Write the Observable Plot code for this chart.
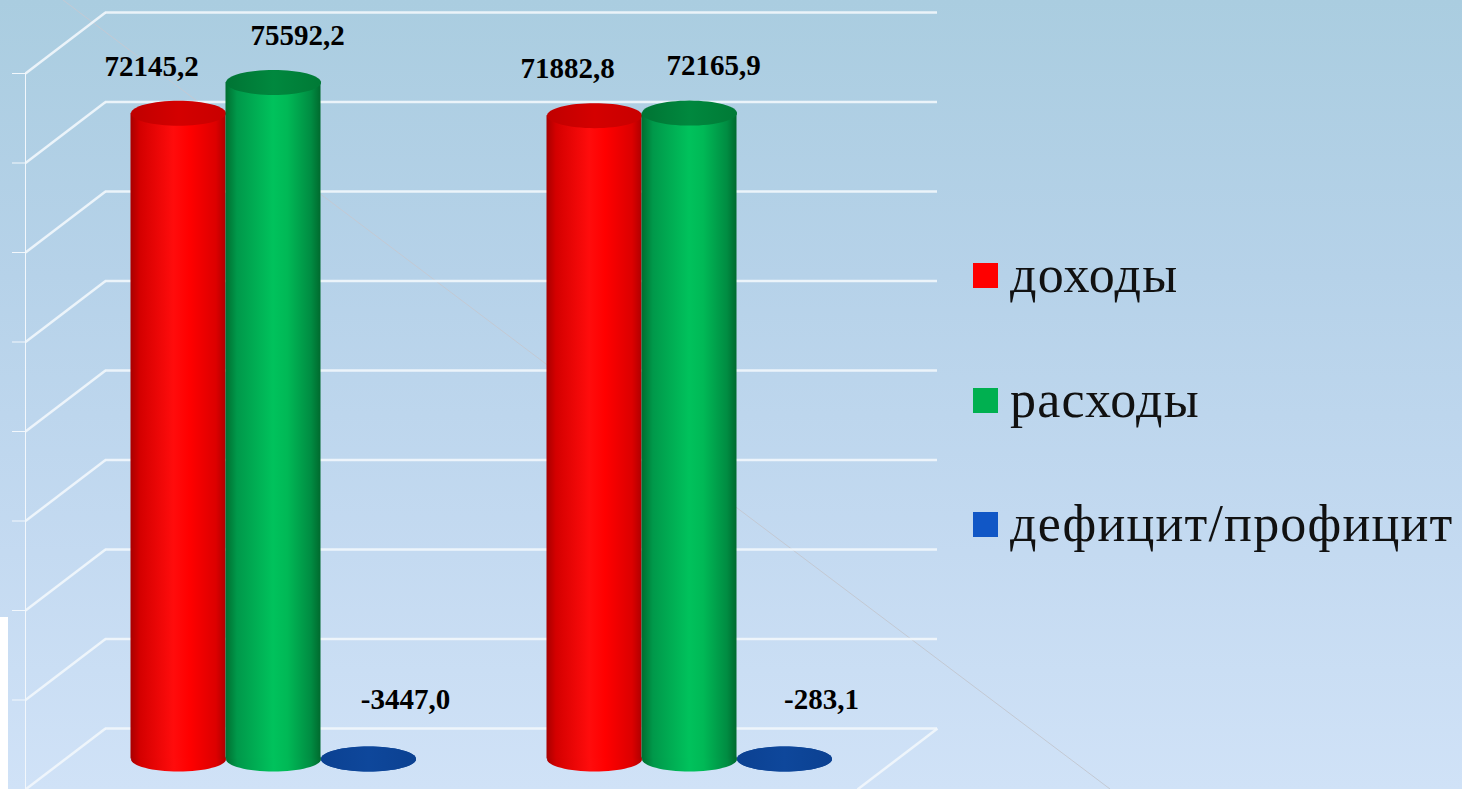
<!DOCTYPE html>
<html>
<head>
<meta charset="utf-8">
<script src="https://cdn.jsdelivr.net/npm/d3@7"></script>
<script src="https://cdn.jsdelivr.net/npm/@observablehq/plot@0.6"></script>
<style>
  html, body { margin: 0; padding: 0; }
  #page {
    position: relative; width: 1462px; height: 789px; overflow: hidden;
    background: linear-gradient(180deg, #aacde0 0%, #b6d2e9 35%, #c4daf1 70%, #d0e2f7 100%);
  }
  #deco { position: absolute; left: 0; top: 0; }
  #strip { position: absolute; left: 0; top: 617px; width: 8px; height: 172px; background: #ffffff; }
  #chart { position: absolute; left: 0; top: 0; }
  .item { position: absolute; left: 973px; height: 60px; white-space: nowrap; }
  .item .sw { position: absolute; left: 0; top: 13px; width: 25px; height: 25px; }
  .item .tx { position: absolute; left: 37px; top: 0; font-family: "Liberation Serif", "Times New Roman", serif;
              font-size: 52px; line-height: 50px; letter-spacing: 1.2px; color: #111; }
</style>
</head>
<body>
<svg width="0" height="0" style="position:absolute">
  <defs>
    <linearGradient id="bodyRed" x1="0" x2="1" y1="0" y2="0">
      <stop offset="0" stop-color="#a80000"/>
      <stop offset="0.1" stop-color="#d40000"/>
      <stop offset="0.45" stop-color="#ff0c0c"/>
      <stop offset="0.62" stop-color="#ff0000"/>
      <stop offset="0.9" stop-color="#dc0000"/>
      <stop offset="1" stop-color="#b00000"/>
    </linearGradient>
    <linearGradient id="topRed" x1="0" x2="1" y1="0" y2="0">
      <stop offset="0" stop-color="#c00000"/>
      <stop offset="0.5" stop-color="#d40000"/>
      <stop offset="1" stop-color="#c80000"/>
    </linearGradient>
    <linearGradient id="bodyGreen" x1="0" x2="1" y1="0" y2="0">
      <stop offset="0" stop-color="#006e30"/>
      <stop offset="0.12" stop-color="#00984a"/>
      <stop offset="0.5" stop-color="#00c25c"/>
      <stop offset="0.65" stop-color="#00b956"/>
      <stop offset="0.9" stop-color="#008c42"/>
      <stop offset="1" stop-color="#006a2e"/>
    </linearGradient>
    <linearGradient id="topGreen" x1="0" x2="1" y1="0" y2="0">
      <stop offset="0" stop-color="#007434"/>
      <stop offset="0.5" stop-color="#00883e"/>
      <stop offset="1" stop-color="#007a36"/>
    </linearGradient>
    <linearGradient id="bodyBlue" x1="0" x2="1" y1="0" y2="0">
      <stop offset="0" stop-color="#0a3f8e"/>
      <stop offset="0.5" stop-color="#0f4a9e"/>
      <stop offset="1" stop-color="#0a3f8e"/>
    </linearGradient>
    <linearGradient id="topBlue" x1="0" x2="1" y1="0" y2="0">
      <stop offset="0" stop-color="#0b4192"/>
      <stop offset="0.5" stop-color="#0e479b"/>
      <stop offset="1" stop-color="#0b4192"/>
    </linearGradient>
  </defs>
</svg>
<div id="page">
  <svg id="deco" width="1462" height="789"><line x1="63" y1="0" x2="1110" y2="789" stroke="#c3c9d3" stroke-width="1"/></svg>
  <div id="strip"></div>
  <div id="chart"></div>
  <div id="legend"></div>
</div>
<script>
// ---- data ----
const groups = ["Период 1", "Период 2"];
const seriesNames = ["доходы", "расходы", "дефицит/профицит"];
const incomes = [72145.2, 71882.8];
const expenses = [75592.2, 72165.9];
const balance = [-3447.0, -283.1];
const yTicks = [0, 10000, 20000, 30000, 40000, 50000, 60000, 70000, 80000];
const legendColors = ["#ff0000", "#00b050", "#1157c6"];

const table = groups.flatMap((g, i) => [
  {group: g, series: seriesNames[0], value: incomes[i]},
  {group: g, series: seriesNames[1], value: expenses[i]},
  {group: g, series: seriesNames[2], value: balance[i]}
]);

// ---- layout / style ----
const W = 945, H = 789, ML = 25, MR = 88, MT = 73, MB = 0;
const DEPTH_X = 80, DEPTH_Y = -61;
const BAR_W = 95;
const BAND = (W - ML - MR) / groups.length;
const INSET = (BAND - BAR_W) / 2;
const RX = BAR_W / 2, RY = 12.5;

const look = {
  "доходы":           {body: "url(#bodyRed)",   top: "url(#topRed)",   shift: -95, labelDx: -27, labelDy: -47},
  "расходы":          {body: "url(#bodyGreen)", top: "url(#topGreen)", shift: 0,   labelDx: 24,  labelDy: -47},
  "дефицит/профицит": {body: "url(#bodyBlue)",  top: "url(#topBlue)",  shift: 95,  labelDx: 37,  labelDy: -59}
};

const ellipse = {
  draw(ctx) {
    const n = 64;
    for (let i = 0; i <= n; i++) {
      const a = 2 * Math.PI * i / n;
      const px = RX * Math.cos(a), py = RY * Math.sin(a);
      if (i === 0) ctx.moveTo(px, py); else ctx.lineTo(px, py);
    }
    ctx.closePath();
  }
};
const diagonal = { draw(ctx) { ctx.moveTo(0, 0); ctx.lineTo(DEPTH_X, DEPTH_Y); } };

const fmt = d3.formatLocale({decimal: ",", thousands: " ", grouping: [3], currency: ["", ""], minus: "-"}).format(".1f");

const wall = {stroke: "#f2f7fc", strokeWidth: 2.5, strokeOpacity: 0.9};

const marks = [
  Plot.ruleY(yTicks, {y: d => d, dx: DEPTH_X, dy: DEPTH_Y, ...wall}),
  Plot.dot(yTicks, {y: d => d, frameAnchor: "left", symbol: diagonal, r: 1, fill: "none", ...wall}),
  Plot.dot([0], {y: d => d, frameAnchor: "right", symbol: diagonal, r: 1, fill: "none", ...wall})
];

const drawOrder = [seriesNames[2], seriesNames[0], seriesNames[1]];
for (const s of drawOrder) {
  const d = table.filter(r => r.series === s);
  const L = look[s];
  const dx = DEPTH_X / 2 + L.shift, dy = DEPTH_Y / 2;
  marks.push(
    Plot.dot(d, {x: "group", y: () => 0, dx, dy, symbol: ellipse, r: 1, fill: L.body, stroke: "none"}),
    Plot.barY(d, {x: "group", y1: () => 0, y2: "value", dx, dy, insetLeft: INSET, insetRight: INSET, fill: L.body}),
    Plot.dot(d, {x: "group", y: "value", dx, dy, symbol: ellipse, r: 1, fill: L.top, stroke: "none"})
  );
}
for (const s of seriesNames) {
  const d = table.filter(r => r.series === s);
  const L = look[s];
  marks.push(Plot.text(d, {
    x: "group", y: "value", text: r => fmt(r.value),
    dx: DEPTH_X / 2 + L.shift + L.labelDx, dy: DEPTH_Y / 2 + L.labelDy,
    fontSize: 29, fontWeight: 700, fontFamily: "Liberation Serif, Times New Roman, serif", fill: "#000"
  }));
}

const chart = Plot.plot({
  width: W, height: H,
  marginLeft: ML, marginRight: MR, marginTop: MT, marginBottom: MB,
  style: {background: "transparent", color: "#f2f7fc", overflow: "visible"},
  x: {type: "band", domain: groups, padding: 0, axis: null},
  y: {domain: [0, 80000], clamp: true, ticks: yTicks, tickSize: 13, tickFormat: () => "", line: true, label: null},
  marks
});
document.getElementById("chart").appendChild(chart);

// legend
const legend = document.getElementById("legend");
seriesNames.forEach((name, i) => {
  const item = document.createElement("div");
  item.className = "item";
  item.style.top = (250 + i * 124.5) + "px";
  item.innerHTML = `<div class="sw" style="background:${legendColors[i]}"></div><div class="tx">${name}</div>`;
  legend.appendChild(item);
});
</script>
</body>
</html>
